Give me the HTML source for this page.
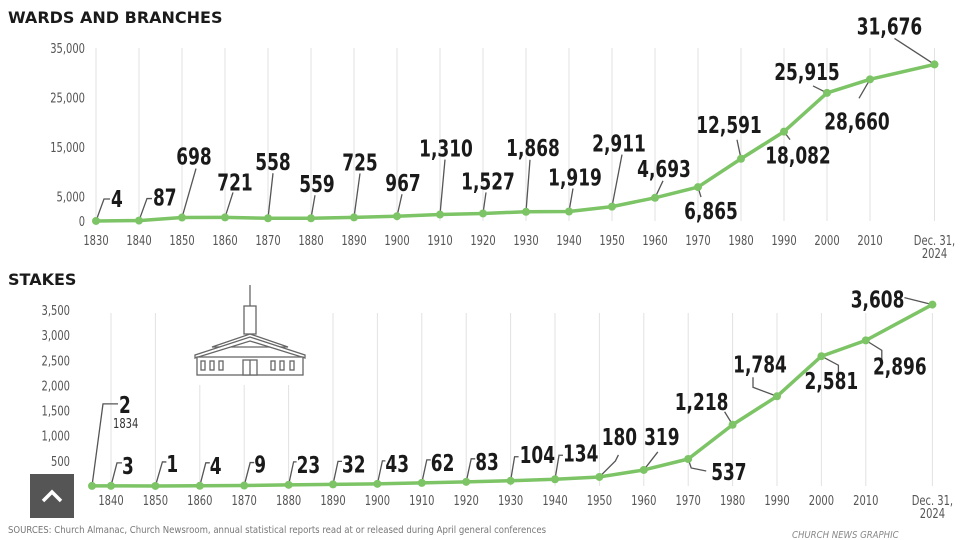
<!DOCTYPE html>
<html><head><meta charset="utf-8"><style>
html,body{margin:0;padding:0;background:#fff;}
body{width:960px;height:540px;overflow:hidden;position:relative;font-family:"DejaVu Sans Condensed","Liberation Sans",sans-serif;}
svg{position:absolute;left:0;top:0;}
.title{font-family:"DejaVu Sans","Liberation Sans",sans-serif;font-weight:bold;font-size:16px;fill:#1a1a1a;}
.tick{font-size:13px;fill:#555;}
.lbl{font-weight:bold;font-size:23px;fill:#1a1a1a;}
</style></head><body>
<svg id="chart" width="960" height="540">
<text class="title" x="8" y="23">WARDS AND BRANCHES</text>
<text class="title" x="8" y="285">STAKES</text>
<g id="top"></g>
<g id="bot"></g>
<text x="8" y="533" font-size="9.5" fill="#777">SOURCES: Church Almanac, Church Newsroom, annual statistical reports read at or released during April general conferences</text>
<text x="792" y="538" font-size="9.5" fill="#888" font-style="italic">CHURCH NEWS GRAPHIC</text>
<g>
<rect x="30" y="474" width="44" height="44" fill="#555"/>
<polyline points="43,501 52,492 61,501" fill="none" stroke="#fff" stroke-width="3.5"/>
</g>
</svg>
<script>
// ===== Wards and branches data =====
const topYears=[1830,1840,1850,1860,1870,1880,1890,1900,1910,1920,1930,1940,1950,1960,1970,1980,1990,2000,2010,2025];
const topValues=[4,87,698,721,558,559,725,967,1310,1527,1868,1919,2911,4693,6865,12591,18082,25915,28660,31676];
const topTickYears=[1830,1840,1850,1860,1870,1880,1890,1900,1910,1920,1930,1940,1950,1960,1970,1980,1990,2000,2010];
const topYTicks=[0,5000,15000,25000,35000];
// ===== Stakes data =====
const botYears=[1834,1840,1850,1860,1870,1880,1890,1900,1910,1920,1930,1940,1950,1960,1970,1980,1990,2000,2010,2025];
const botValues=[2,3,1,4,9,23,32,43,62,83,104,134,180,319,537,1218,1784,2581,2896,3608];
const botTickYears=[1840,1850,1860,1870,1880,1890,1900,1910,1920,1930,1940,1950,1960,1970,1980,1990,2000,2010];
const botYTicks=[0,500,1000,1500,2000,2500,3000,3500];

const topLayout=[
 [[[8,-22],[14,-22]],15,-14,'start'],[[[8,-22],[13,-22]],14,-15,'start'],
 [[[14,-49]],12,-53,'middle'],[[[8,-25]],10,-27,'middle'],[[[5,-45]],5,-48,'middle'],
 [[[4,-23]],6,-26,'middle'],[[[6,-44]],6,-47,'middle'],[[[5,-22]],6,-25,'middle'],
 [[[5,-55]],6,-58,'middle'],[[[3,-21]],5,-24,'middle'],[[[4,-52]],7,-56,'middle'],
 [[[4,-23]],6,-26,'middle'],[[[10,-52]],7,-55,'middle'],[[[8,-17]],9,-21,'middle'],
 [[[3,10]],13,32,'middle'],[[[-4,-19]],-12,-26,'middle'],[[[6,8]],14,32,'middle'],
 [[[-14,-7]],-20,-13,'middle'],[[[-11,19]],-13,50,'middle'],[[[-40,-26]],-45,-30,'middle']];
const botLayout=[
 [[[11,-82],[26,-82]],27,-73,'start'],[[[6,-23],[11,-23]],11,-12,'start'],
 [[[7,-24],[11,-24]],11,-14,'start'],[[[6,-23],[10,-23]],10,-12,'start'],
 [[[6,-23],[10,-23]],10,-13,'start'],[[[5,-23],[8,-23]],8,-12,'start'],
 [[[5,-23],[9,-23]],9,-12,'start'],[[[5,-23],[8,-23]],8,-12,'start'],
 [[[5,-23],[9,-23]],9,-12,'start'],[[[5,-23],[9,-23]],9,-12,'start'],
 [[[4,-24],[8,-24]],9,-18,'start'],[[[4,-24],[8,-24]],8,-18,'start'],
 [[[16,-16],[19,-22]],20,-32,'middle'],[[[14,-18]],18,-25,'middle'],
 [[[3,9],[18,12]],23,21,'start'],[[[-8,-13]],-31,-15,'middle'],
 [[[-24,-9],[-24,-19]],-17,-24,'middle'],[[[17,9],[17,18]],10,33,'middle'],
 [[[16,10],[16,20]],34,34,'middle'],[[[-28,-7]],-28,3,'end']];

const NS='http://www.w3.org/2000/svg';
function mk(p,tag,attrs){const e=document.createElementNS(NS,tag);for(const k in attrs)e.setAttribute(k,attrs[k]);p.appendChild(e);return e;}
const fmt=v=>v.toLocaleString('en-US');
function squeeze(t,f){const w=t.getComputedTextLength();if(w>0){t.setAttribute('textLength',(w*f).toFixed(1));t.setAttribute('lengthAdjust','spacingAndGlyphs');}}

function drawChart(g,years,values,tickYears,yTicks,layout,xs,ys,gridTop,isBot){
 tickYears.concat([2025]).forEach(yr=>{
  const l=mk(g,'line',{x1:xs(yr),x2:xs(yr),y1:gridTop,y2:ys(0),stroke:'#e2e2e2','stroke-width':1});
  
  
 });
 if(!isBot){const a=mk(g,'line',{x1:xs(years[0]),x2:xs(years[0]),y1:gridTop,y2:ys(0),stroke:'#e2e2e2'});
  }
 yTicks.forEach(t=>{
  const e=mk(g,'text',{x:isBot?70:85,y:ys(t)+5,'text-anchor':'end',class:'tick'});
  e.textContent=fmt(t);
  
  
  squeeze(e,0.85);
 });
 const ty=isBot?505:245;
 tickYears.forEach(yr=>{
  const e=mk(g,'text',{x:xs(yr),y:ty,'text-anchor':'middle',class:'tick'});
  e.textContent=yr;
  
  
  squeeze(e,0.85);
 });
 const d1=mk(g,'text',{x:xs(2025),y:ty,'text-anchor':'middle',class:'tick'});d1.textContent='Dec. 31,';
 
 
 squeeze(d1,0.85);
 const d2=mk(g,'text',{x:xs(2025),y:ty+13,'text-anchor':'middle',class:'tick'});d2.textContent='2024';
 
 
 squeeze(d2,0.85);
 const pts=years.map((yr,i)=>xs(yr)+','+ys(values[i])).join(' ');
 const pl=mk(g,'polyline',{points:pts,fill:'none',stroke:'#7cc465','stroke-width':3.5,'stroke-linejoin':'round'});
 
 
 years.forEach((yr,i)=>{
  const px=xs(yr),py=ys(values[i]);const L=layout[i];
  const lp=[[px,py]].concat(L[0].map(o=>[px+o[0],py+o[1]])).map(p=>p.join(',')).join(' ');
  const ld=mk(g,'polyline',{points:lp,fill:'none',stroke:'#555','stroke-width':1.3});
  
  
  const c=mk(g,'circle',{cx:px,cy:py,r:4,fill:'#7cc465'});
  
  
  const t=mk(g,'text',{x:px+L[1],y:py+L[2],'text-anchor':L[3],class:'lbl'});
  t.textContent=fmt(values[i]);
  
  
  squeeze(t,0.82);
 });
}
const xTop=yr=>96+(yr-1830)*4.3;
const yTop=v=>221-v*173/35000;
drawChart(document.getElementById('top'),topYears,topValues,topTickYears,topYTicks,topLayout,xTop,yTop,48,false);
const xBot=yr=>(yr<1840?92:111+(yr-1840)*4.44);
const yBot=v=>486-v*176/3500;
const bg=document.getElementById('bot');
drawChart(bg,botYears,botValues,botTickYears,botYTicks,botLayout,xBot,yBot,313,true);
const sub=mk(bg,'text',{x:xBot(1834)+21,y:yBot(2)-58,'font-size':13,fill:'#333'});
sub.textContent='1834';


squeeze(sub,0.85);
const ch=mk(document.getElementById('chart'),'g',{fill:'#fff',stroke:'#666','stroke-width':1.3});


mk(ch,'rect',{x:185,y:285,width:130,height:100,stroke:'none'});
mk(ch,'line',{x1:250,y1:285,x2:250,y2:306});
mk(ch,'rect',{x:244,y:306,width:12,height:28});
mk(ch,'polygon',{points:'212,347 250,334 288,347'});
mk(ch,'polygon',{points:'195,355 250,337 305,355 305,358 250,341 195,358'});
mk(ch,'rect',{x:197,y:357,width:106,height:18});
[201,210,219,271,280,290].forEach(x=>mk(ch,'rect',{x:x,y:361,width:4,height:9}));
mk(ch,'rect',{x:243,y:360,width:14,height:15});
mk(ch,'line',{x1:250,y1:360,x2:250,y2:375});
</script>
</body></html>
